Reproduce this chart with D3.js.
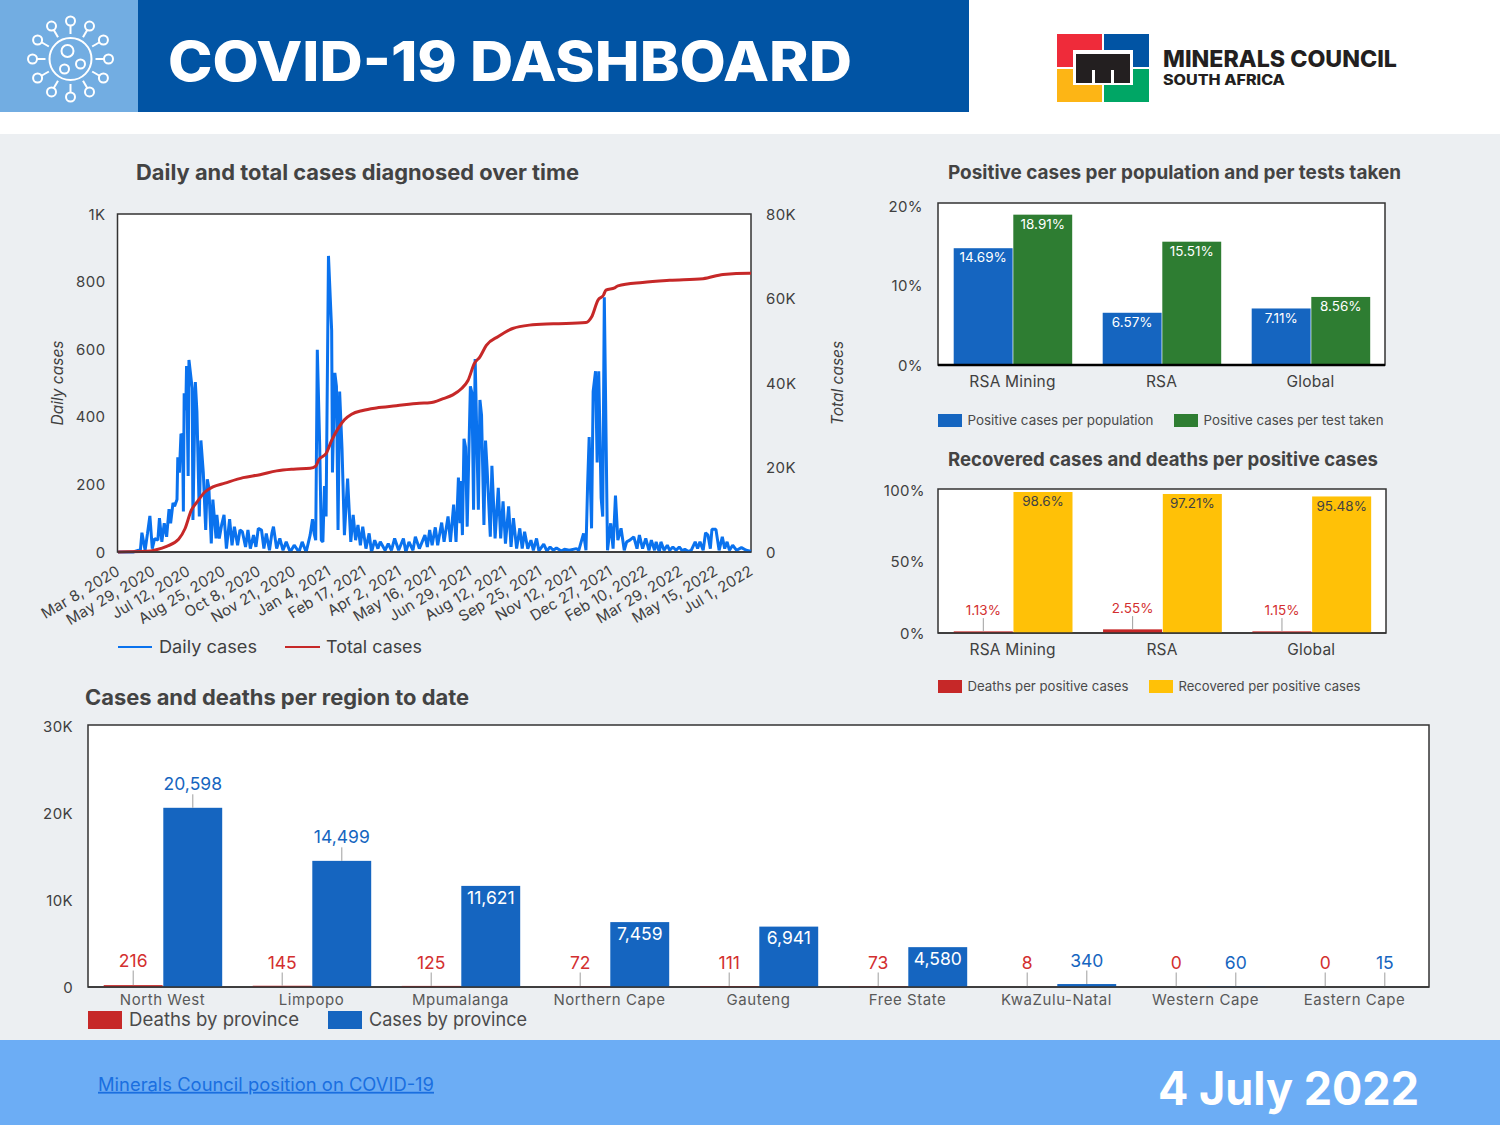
<!DOCTYPE html>
<html>
<head>
<meta charset="utf-8">
<title>COVID-19 Dashboard</title>
<script src="https://cdn.jsdelivr.net/npm/d3@7"></script>
<style>
  html, body { margin: 0; padding: 0; background: #fff; }
  svg { display: block; font-family: Inter, "Open Sans", sans-serif; }
  .axis .domain { display: none; }
  .axis text { fill: #404040; letter-spacing: 0.4px; }
</style>
</head>
<body>
<div id="chart"></div>
<script>
// daily / total cases, x is the record number along the category axis
const dateLabels = ["Mar 8, 2020", "May 29, 2020", "Jul 12, 2020", "Aug 25, 2020", "Oct 8, 2020", "Nov 21, 2020", "Jan 4, 2021", "Feb 17, 2021", "Apr 2, 2021", "May 16, 2021", "Jun 29, 2021", "Aug 12, 2021", "Sep 25, 2021", "Nov 12, 2021", "Dec 27, 2021", "Feb 10, 2022", "Mar 29, 2022", "May 15, 2022", "Jul 1, 2022"];
const lastRecord = 794;
const dailyRecords = [0, 19, 26, 28, 30, 34, 37, 40, 43, 46, 50, 52, 55, 58, 61, 64, 66, 69, 71, 74, 75, 77, 79, 81, 82, 83, 85, 86, 88, 89, 93, 94, 97, 99, 102, 104, 107, 110, 112, 114, 117, 119, 123, 124, 127, 130, 133, 136, 140, 143, 146, 150, 153, 156, 160, 163, 166, 170, 173, 176, 180, 183, 186, 190, 193, 195, 199, 203, 207, 211, 216, 221, 227, 231, 236, 239, 241, 244, 246, 248, 250, 253, 255, 257, 259, 261, 264, 268, 269, 272, 274, 276, 278, 281, 284, 288, 292, 295, 298, 301, 304, 307, 311, 315, 318, 322, 326, 329, 335, 339, 343, 347, 352, 358, 361, 365, 370, 373, 378, 385, 388, 391, 394, 398, 401, 406, 409, 414, 417, 421, 424, 427, 429, 430, 432, 434, 436, 438, 442, 444, 446, 448, 452, 454, 456, 459, 461, 463, 467, 469, 473, 477, 480, 483, 486, 490, 493, 496, 500, 504, 507, 510, 514, 518, 521, 525, 528, 534, 538, 542, 546, 550, 556, 560, 566, 575, 578, 584, 587, 589, 591, 594, 596, 599, 601, 603, 606, 608, 610, 614, 618, 621, 624, 627, 631, 635, 638, 642, 647, 651, 654, 658, 662, 666, 669, 673, 675, 679, 681, 685, 689, 692, 696, 700, 704, 708, 711, 715, 719, 724, 727, 730, 734, 737, 740, 743, 745, 750, 754, 758, 761, 764, 767, 771, 776, 782, 788, 792, 794];
const dailyCases = [0, 0, 5, 3, 57, 5, 55, 107, 10, 40, 35, 100, 30, 85, 45, 127, 85, 145, 135, 155, 280, 235, 350, 340, 120, 470, 420, 550, 225, 568, 485, 95, 503, 415, 105, 330, 235, 65, 215, 190, 25, 155, 40, 110, 40, 80, 110, 10, 97, 20, 75, 20, 65, 60, 15, 65, 10, 50, 15, 70, 65, 10, 55, 5, 55, 75, 10, 40, 5, 30, 0, 20, 0, 30, 0, 30, 50, 97, 55, 35, 598, 315, 35, 30, 195, 105, 876, 655, 235, 530, 490, 65, 475, 305, 50, 217, 30, 110, 35, 80, 20, 75, 10, 55, 0, 35, 10, 30, 5, 25, 5, 40, 5, 40, 0, 30, 5, 45, 10, 50, 15, 65, 20, 73, 20, 87, 30, 105, 30, 140, 30, 220, 85, 210, 50, 335, 310, 75, 490, 470, 125, 571, 125, 450, 405, 80, 330, 245, 45, 255, 40, 190, 40, 150, 25, 135, 15, 100, 10, 70, 10, 60, 10, 35, 5, 40, 3, 23, 3, 15, 5, 12, 3, 8, 5, 10, 5, 55, 5, 195, 340, 70, 475, 535, 265, 535, 160, 105, 754, 5, 85, 10, 167, 35, 70, 5, 30, 35, 45, 10, 50, 10, 40, 5, 35, 5, 30, 0, 30, 5, 20, 5, 15, 5, 15, 3, 8, 2, 5, 30, 10, 30, 5, 57, 50, 10, 67, 67, 5, 45, 10, 30, 5, 20, 5, 13, 5, 3, 2];
const totalRecords = [0, 36, 48, 61, 76, 84, 92, 99, 109, 119, 134, 157, 178, 199, 220, 241, 248, 252, 261, 268, 276, 284, 293, 307, 324, 349, 378, 391, 408, 420, 431, 439, 447, 454, 462, 477, 495, 516, 546, 587, 594, 602, 609, 612, 623, 627, 658, 692, 734, 759, 792, 794];
const totalCases = [0, 150, 550, 1340, 3000, 5500, 9900, 11800, 14200, 15400, 16300, 17600, 18300, 19200, 19600, 19800, 20300, 21900, 23300, 26400, 29200, 31300, 32600, 33500, 34100, 34600, 35200, 35300, 36300, 37200, 38700, 40600, 44600, 46200, 48900, 51000, 52900, 53700, 54000, 54300, 55600, 59600, 60800, 62000, 62500, 63000, 63800, 64300, 64700, 65700, 66000, 66000];

const groups = ["RSA Mining", "RSA", "Global"];
const perPopulation = [14.69, 6.57, 7.11];
const perTest = [18.91, 15.51, 8.56];
const deathsPerPositive = [1.13, 2.55, 1.15];
const recoveredPerPositive = [98.6, 97.21, 95.48];

const provinces = ["North West", "Limpopo", "Mpumalanga", "Northern Cape", "Gauteng", "Free State", "KwaZulu-Natal", "Western Cape", "Eastern Cape"];
const provinceDeaths = [216, 145, 125, 72, 111, 73, 8, 0, 0];
const provinceCases = [20598, 14499, 11621, 7459, 6941, 4580, 340, 60, 15];

const width = 1500, height = 1125;
const blue = "#1565c0", green = "#2e7d32", red = "#c62828", yellow = "#ffc107";
const titleColor = "#434343", textColor = "#404040";

const svg = d3.select("#chart").append("svg")
    .attr("width", width)
    .attr("height", height);

// backgrounds
svg.append("rect").attr("width", width).attr("height", height).attr("fill", "#fff");
svg.append("rect").attr("y", 134).attr("width", width).attr("height", 906).attr("fill", "#eceff2");
svg.append("rect").attr("y", 1040).attr("width", width).attr("height", 85).attr("fill", "#6cadf5");
svg.append("rect").attr("width", 138).attr("height", 112).attr("fill", "#72ade2");
svg.append("rect").attr("x", 138).attr("width", 831).attr("height", 112).attr("fill", "#0154a4");

// text helper, textLength keeps the wide look of the original typeface
function label(parent, x, y, str, size, opts = {}) {
    const t = parent.append("text")
        .attr("x", x).attr("y", y + 0.5)
        .attr("dy", "0.35em")
        .attr("font-size", size)
        .attr("font-weight", opts.weight || 400)
        .attr("font-style", opts.style || "normal")
        .attr("text-anchor", opts.anchor || "start")
        .attr("fill", opts.fill || textColor)
        .text(str);
    if (opts.len) t.attr("textLength", opts.len).attr("lengthAdjust", "spacingAndGlyphs");
    if (opts.spacing) t.attr("letter-spacing", opts.spacing);
    return t;
}

label(svg, 168, 61, "COVID-19 DASHBOARD", 55, {weight: 800, fill: "#fff", len: 684});

// virus icon
const icon = svg.append("g").attr("transform", "translate(70.5,59)")
    .attr("fill", "none").attr("stroke", "#fff").attr("stroke-width", 2);
icon.append("circle").attr("r", 21);
[[-3, -8, 6], [10, 5, 4.5], [-6, 10, 4.5]].forEach(c => {
    icon.append("circle").attr("cx", c[0]).attr("cy", c[1]).attr("r", c[2]);
});
d3.range(12).forEach(i => {
    const a = i * Math.PI / 6;
    icon.append("line")
        .attr("x1", 25 * Math.cos(a)).attr("y1", 25 * Math.sin(a))
        .attr("x2", 34 * Math.cos(a)).attr("y2", 34 * Math.sin(a));
    icon.append("circle").attr("cx", 38 * Math.cos(a)).attr("cy", 38 * Math.sin(a)).attr("r", 4.5);
});

// logo
const logo = svg.append("g").attr("transform", "translate(1057,34)");
logo.append("rect").attr("width", 45).attr("height", 33).attr("fill", "#ef2b3a");
logo.append("rect").attr("x", 47).attr("width", 45).attr("height", 33).attr("fill", "#0154a4");
logo.append("rect").attr("y", 35).attr("width", 45).attr("height", 33).attr("fill", "#fdb515");
logo.append("rect").attr("x", 47).attr("y", 35).attr("width", 45).attr("height", 33).attr("fill", "#00a665");
logo.append("rect").attr("x", 16).attr("y", 16).attr("width", 60).attr("height", 35).attr("fill", "#fff");
logo.append("rect").attr("x", 19).attr("y", 20).attr("width", 54).attr("height", 29).attr("fill", "#231f20");
[35, 54].forEach(x => {
    logo.append("rect").attr("x", x).attr("y", 36).attr("width", 3).attr("height", 13).attr("fill", "#fff");
});
label(svg, 1163, 58, "MINERALS COUNCIL", 23, {weight: 800, fill: "#231f20", len: 234});
label(svg, 1163, 80, "SOUTH AFRICA", 14, {weight: 800, fill: "#231f20", len: 122});

// ---- daily and total cases ----
label(svg, 136, 172, "Daily and total cases diagnosed over time", 21, {weight: 700, fill: titleColor, len: 443});

const lineBox = {left: 117.5, right: 751, top: 214, bottom: 552};
svg.append("rect")
    .attr("x", lineBox.left).attr("y", lineBox.top)
    .attr("width", lineBox.right - lineBox.left).attr("height", lineBox.bottom - lineBox.top)
    .attr("fill", "#fff").attr("stroke", "#333").attr("stroke-width", 1.5);

const x = d3.scaleLinear().domain([0, lastRecord]).range([lineBox.left + 0.5, lineBox.right]);
const yDaily = d3.scaleLinear().domain([0, 1000]).range([lineBox.bottom, lineBox.top]);
const yTotal = d3.scaleLinear().domain([0, 80000]).range([lineBox.bottom, lineBox.top]);
const kFormat = d => d === 0 ? "0" : d >= 1000 ? (d / 1000) + "K" : d;

svg.append("g").attr("class", "axis")
    .attr("transform", `translate(${lineBox.left},0.3)`)
    .call(d3.axisLeft(yDaily).tickValues(d3.range(0, 1001, 200)).tickFormat(kFormat).tickSize(0).tickPadding(12))
    .selectAll("text").attr("font-size", 15).attr("font-family", "Inter");
svg.append("g").attr("class", "axis")
    .attr("transform", `translate(${lineBox.right},0.3)`)
    .call(d3.axisRight(yTotal).tickValues(d3.range(0, 80001, 20000)).tickFormat(kFormat).tickSize(0).tickPadding(15))
    .selectAll("text").attr("font-size", 15).attr("font-family", "Inter");

label(svg, 0, 0, "Daily cases", 15.5, {style: "italic", anchor: "middle"})
    .attr("transform", "translate(57,383) rotate(-90)");
label(svg, 0, 0, "Total cases", 15.5, {style: "italic", anchor: "middle"})
    .attr("transform", "translate(837,383) rotate(-90)");

const dailyLine = d3.line().x((d, i) => x(dailyRecords[i])).y(d => yDaily(d));
const totalLine = d3.line().x((d, i) => x(totalRecords[i])).y(d => yTotal(d)).curve(d3.curveMonotoneX);
svg.append("path").datum(dailyCases)
    .attr("d", dailyLine)
    .attr("fill", "none").attr("stroke", "#0a72ee").attr("stroke-width", 3).attr("stroke-linejoin", "bevel");
svg.append("path").datum(totalCases)
    .attr("d", totalLine)
    .attr("fill", "none").attr("stroke", red).attr("stroke-width", 3);

svg.append("line")
    .attr("x1", lineBox.left).attr("x2", lineBox.right)
    .attr("y1", lineBox.bottom).attr("y2", lineBox.bottom)
    .attr("stroke", "#333").attr("stroke-width", 1.5);

// tick labels sit evenly spaced along the records
const labelStep = lastRecord / (dateLabels.length - 1);
dateLabels.forEach((d, i) => {
    label(svg, 0, 0, d, 15, {anchor: "end", spacing: 0.15})
        .attr("transform", `translate(${x(i * labelStep)},569) rotate(-31)`);
});

svg.append("line").attr("x1", 118).attr("x2", 152).attr("y1", 647).attr("y2", 647).attr("stroke", "#0a72ee").attr("stroke-width", 2);
label(svg, 159, 646.5, "Daily cases", 17, {len: 98});
svg.append("line").attr("x1", 285).attr("x2", 320).attr("y1", 647).attr("y2", 647).attr("stroke", red).attr("stroke-width", 2);
label(svg, 326, 646.5, "Total cases", 17, {len: 96});

// ---- grouped bars, used by the two small charts and the province chart ----
function groupedBars(opts) {
    const box = opts.box;
    svg.append("rect")
        .attr("x", box.left).attr("y", box.top)
        .attr("width", box.right - box.left).attr("height", box.bottom - box.top)
        .attr("fill", "#fff").attr("stroke", "#333").attr("stroke-width", 1.5);

    const x0 = d3.scaleBand().domain(opts.categories).range([box.left, box.right])
        .paddingInner(0.2).paddingOuter(0.1);
    const x1 = d3.scaleBand().domain(d3.range(opts.series.length)).range([0, x0.bandwidth()]);
    const y = d3.scaleLinear().domain(opts.domain).range([box.bottom, opts.yTop]);

    svg.append("g").attr("class", "axis")
        .attr("transform", `translate(${box.left},0.3)`)
        .call(d3.axisLeft(y).tickValues(opts.ticks).tickFormat(opts.tickFormat).tickSize(0).tickPadding(opts.tickPad))
        .selectAll("text").attr("font-size", opts.tickSize).attr("font-family", "Inter").attr("fill", opts.tickFill);

    opts.series.forEach((s, si) => {
        svg.append("g").selectAll("rect")
            .data(s.values)
            .enter()
            .append("rect")
            .attr("x", (d, i) => x0(opts.categories[i]) + x1(si) + 0.8)
            .attr("y", d => y(d))
            .attr("width", x1.bandwidth() - 0.7)
            .attr("height", d => box.bottom - y(d))
            .attr("fill", s.color);

        s.values.forEach((v, i) => {
            const cx = x0(opts.categories[i]) + x1(si) + x1.bandwidth() / 2 + 0.5;
            const place = opts.place(v, s, i);
            if (place.inside) {
                label(svg, cx, y(v) + place.offset, opts.format(v), opts.labelSize, {anchor: "middle", fill: s.insideColor});
            } else {
                const ly = place.y !== undefined ? place.y : y(v) - 24;
                svg.append("line")
                    .attr("x1", cx).attr("x2", cx)
                    .attr("y1", ly + opts.labelSize * 0.6).attr("y2", Math.min(y(v), box.bottom))
                    .attr("stroke", "#9e9e9e").attr("stroke-width", 1);
                label(svg, cx, ly, opts.format(v), opts.labelSize, {anchor: "middle", fill: s.outsideColor});
            }
        });
    });

    svg.append("line")
        .attr("x1", box.left).attr("x2", box.right)
        .attr("y1", box.bottom).attr("y2", box.bottom)
        .attr("stroke", opts.baseColor).attr("stroke-width", opts.baseWidth);

    opts.categories.forEach(c => {
        label(svg, x0(c) + x0.bandwidth() / 2, box.bottom + opts.catGap, c, opts.catSize, {anchor: "middle", fill: opts.catFill, spacing: opts.catSpacing});
    });
}

function swatch(px, py, w, h, color, str, size, len) {
    svg.append("rect").attr("x", px).attr("y", py).attr("width", w).attr("height", h).attr("fill", color);
    label(svg, px + w + (w > 30 ? 7 : 5.5), py + h / 2 - 0.5, str, size, {len: len, fill: "#4a4a4a"});
}

// ---- positive cases ----
label(svg, 948, 172, "Positive cases per population and per tests taken", 19, {weight: 700, fill: titleColor, len: 453});
groupedBars({
    box: {left: 938, right: 1385, top: 203, bottom: 365},
    yTop: 206,
    categories: groups,
    series: [
        {values: perPopulation, color: blue, insideColor: "#fff"},
        {values: perTest, color: green, insideColor: "#fff"}
    ],
    domain: [0, 20],
    ticks: [0, 10, 20],
    tickFormat: d => d + "%",
    tickPad: 15,
    tickSize: 15,
    tickFill: textColor,
    format: d => d + "%",
    labelSize: 13.5,
    place: () => ({inside: true, offset: 9}),
    baseColor: "#000",
    baseWidth: 2.5,
    catGap: 16,
    catSize: 15.5,
    catFill: textColor,
    catSpacing: 0.2
});
swatch(938, 414, 24, 13, blue, "Positive cases per population", 13.5, 186);
swatch(1174, 414, 24, 13, green, "Positive cases per test taken", 13.5, 180);

// ---- recovered and deaths ----
label(svg, 948, 459, "Recovered cases and deaths per positive cases", 19, {weight: 700, fill: titleColor, len: 430});
groupedBars({
    box: {left: 938, right: 1386, top: 489, bottom: 633},
    yTop: 490,
    categories: groups,
    series: [
        {values: deathsPerPositive, color: red, outsideColor: "#d32f2f"},
        {values: recoveredPerPositive, color: yellow, insideColor: "#424242"}
    ],
    domain: [0, 100],
    ticks: [0, 50, 100],
    tickFormat: d => d + "%",
    tickPad: 13,
    tickSize: 15,
    tickFill: textColor,
    format: d => d + "%",
    labelSize: 13.5,
    place: (v, s, i) => v > 50 ? {inside: true, offset: 9} : {y: i === 1 ? 608 : 610},
    baseColor: "#333",
    baseWidth: 1.5,
    catGap: 16,
    catSize: 15.5,
    catFill: textColor,
    catSpacing: 0.2
});
swatch(938, 680, 24, 13, red, "Deaths per positive cases", 13.5, 161);
swatch(1149, 680, 24, 13, yellow, "Recovered per positive cases", 13.5, 182);

// ---- provinces ----
label(svg, 85, 697, "Cases and deaths per region to date", 21, {weight: 700, fill: titleColor, len: 384});
groupedBars({
    box: {left: 88, right: 1429, top: 725, bottom: 987},
    yTop: 726,
    categories: provinces,
    series: [
        {values: provinceDeaths, color: red, outsideColor: "#d32f2f"},
        {values: provinceCases, color: blue, insideColor: "#fff", outsideColor: blue}
    ],
    domain: [0, 30000],
    ticks: [0, 10000, 20000, 30000],
    tickFormat: kFormat,
    tickPad: 15,
    tickSize: 15,
    tickFill: "#595959",
    format: d3.format(","),
    labelSize: 17.5,
    place: v => {
        if (v > 12000) return {};
        if (v > 4000) return {inside: true, offset: 11};
        return {y: v === 216 || v === 340 ? 960 : 962};
    },
    baseColor: "#333",
    baseWidth: 1.5,
    catGap: 12.5,
    catSize: 15,
    catFill: "#595959",
    catSpacing: 0.55
});
swatch(88, 1011, 34, 18, red, "Deaths by province", 18.5, 170);
swatch(328, 1011, 34, 18, blue, "Cases by province", 18.5, 158);

// footer
label(svg, 98, 1084, "Minerals Council position on COVID-19", 18, {fill: "#1a6fe0", len: 336})
    .attr("text-decoration", "underline");
label(svg, 1158, 1088, "4 July 2022", 46, {weight: 700, fill: "#fff", len: 261});
</script>
</body>
</html>
